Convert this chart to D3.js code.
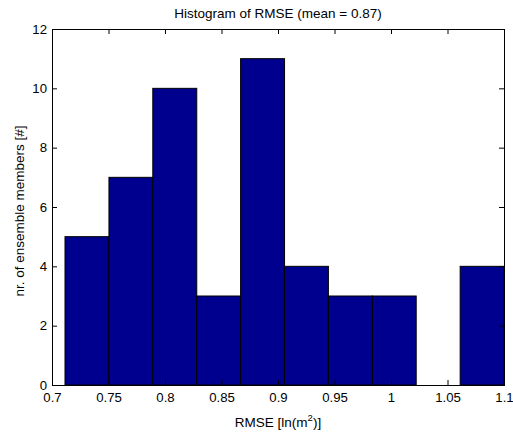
<!DOCTYPE html>
<html><head><meta charset="utf-8">
<script src="https://cdn.jsdelivr.net/npm/d3@7"></script>
<style>body{margin:0;background:#fff}svg{display:block}text{font-family:"Liberation Sans",Arial,sans-serif;fill:#000}</style>
</head><body>
<script>
const binEdges = [0.7115, 0.7504, 0.7892, 0.8281, 0.8669, 0.9058, 0.9446, 0.9835, 1.0223, 1.0612, 1.1];
const counts = [5, 7, 10, 3, 11, 4, 3, 3, 0, 4];
const xTicks = [0.7, 0.75, 0.8, 0.85, 0.9, 0.95, 1, 1.05, 1.1];
const yTicks = [0, 2, 4, 6, 8, 10, 12];
const title = "Histogram of RMSE (mean = 0.87)";
const yLabel = "nr. of ensemble members [#]";

const W = 513, H = 433;
const m = {l: 52, r: 9, t: 29, b: 48};
const svg = d3.select("body").append("svg").attr("width", W).attr("height", H);
const x = d3.scaleLinear().domain([0.7, 1.1]).range([m.l, W - m.r]);
const y = d3.scaleLinear().domain([0, 12]).range([H - m.b, m.t]);

const bins = counts.map((c, i) => ({x0: binEdges[i], x1: binEdges[i + 1], c}));
svg.append("g").selectAll("rect").data(bins).join("rect")
  .attr("x", d => x(d.x0)).attr("width", d => x(d.x1) - x(d.x0))
  .attr("y", d => y(d.c)).attr("height", d => y(0) - y(d.c))
  .attr("fill", "#00008f").attr("stroke", "#000").attr("stroke-width", 1);

const fs = 13.5;
const tfs = 13.2;
const tl = 5;
const gx = svg.append("g").attr("transform", `translate(0,${y(0)})`)
  .call(d3.axisBottom(x).tickValues(xTicks).tickSize(-tl).tickPadding(8).tickFormat(d3.format("~g")));
const gxt = svg.append("g").attr("transform", `translate(0,${y(12)})`)
  .call(d3.axisTop(x).tickValues(xTicks).tickSize(-tl).tickFormat(""));
const gy = svg.append("g").attr("transform", `translate(${x(0.7)},0)`)
  .call(d3.axisLeft(y).tickValues(yTicks).tickSize(-tl).tickPadding(5));
const gyr = svg.append("g").attr("transform", `translate(${x(1.1)},0)`)
  .call(d3.axisRight(y).tickValues(yTicks).tickSize(-tl).tickFormat(""));
[gx, gxt, gy, gyr].forEach(g => {
  g.selectAll(".domain").attr("stroke", "#000");
  g.selectAll(".tick line").attr("stroke", "#000");
  g.selectAll("text").attr("font-size", tfs).attr("font-family", '"Liberation Sans",Arial,sans-serif');
});

svg.append("text").attr("x", (m.l + W - m.r) / 2).attr("y", 18).attr("text-anchor", "middle")
  .attr("font-size", fs).text(title);
const xl = svg.append("text").attr("x", (m.l + W - m.r) / 2).attr("y", 427).attr("text-anchor", "middle")
  .attr("font-size", fs);
xl.append("tspan").text("RMSE [ln(m");
xl.append("tspan").attr("font-size", 9.5).attr("dy", -6).text("2");
xl.append("tspan").attr("dy", 6).text(")]");
svg.append("text").attr("transform", `translate(24,${(m.t + H - m.b) / 2 + 4}) rotate(-90)`)
  .attr("text-anchor", "middle").attr("font-size", fs).text(yLabel);
</script>
</body></html>
